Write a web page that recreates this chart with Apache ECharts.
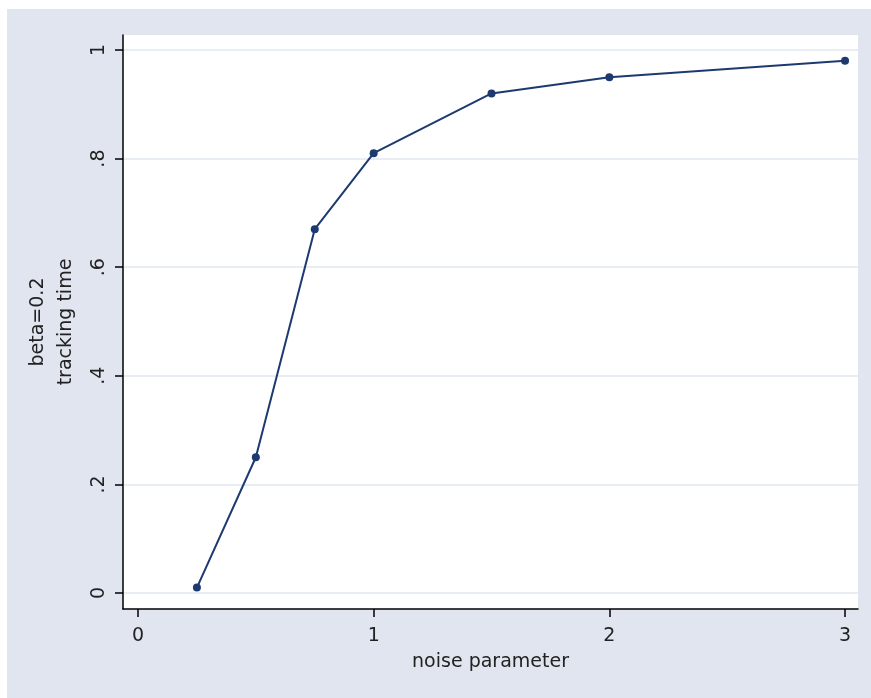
<!DOCTYPE html>
<html>
<head>
<meta charset="utf-8">
<script src="https://cdn.jsdelivr.net/npm/echarts@6/dist/echarts.min.js"></script>
<style>
html,body{margin:0;padding:0;background:#fff;}
#c{width:871px;height:698px;}
</style>
</head>
<body>
<div id="c"></div>
<script>
var noiseParam = [0.25, 0.5, 0.75, 1, 1.5, 2, 3];
var trackingTime = [0.01, 0.25, 0.67, 0.81, 0.92, 0.95, 0.98];
var xTicks = [0, 1, 2, 3];
var yTicks = [0, 0.2, 0.4, 0.6, 0.8, 1];
var yTickLabels = ['0', '.2', '.4', '.6', '.8', '1'];

var FONT = 'DejaVu Sans';
var chart = echarts.init(document.getElementById('c'), null, {renderer: 'canvas'});
var pts = noiseParam.map(function (x, i) { return [x, trackingTime[i]]; });

chart.setOption({
  backgroundColor: '#ffffff',
  animation: false,
  graphic: [{
    type: 'rect', z: -10, silent: true,
    shape: {x: 7, y: 9, width: 871, height: 698},
    style: {fill: '#e1e5f0'}
  }],
  grid: {
    left: 123, right: 13, top: 35, bottom: 89,
    show: true, backgroundColor: '#ffffff', borderWidth: 0
  },
  xAxis: {
    type: 'value',
    min: -0.0636, max: 3.055,
    name: 'noise parameter',
    nameLocation: 'middle',
    nameGap: 44,
    nameTextStyle: {fontFamily: FONT, fontSize: 19, color: '#222'},
    axisLine: {show: true, onZero: false, lineStyle: {color: '#000', width: 1.5}},
    axisTick: {show: true, length: 8, customValues: xTicks, lineStyle: {color: '#000', width: 1.5}},
    axisLabel: {customValues: xTicks, margin: 18, fontFamily: FONT, fontSize: 19, color: '#222',
      formatter: function (v) { return String(v); }},
    splitLine: {show: false}
  },
  yAxis: {
    type: 'value',
    min: -0.0295, max: 1.0276,
    name: 'beta=0.2\ntracking time',
    nameLocation: 'middle',
    nameGap: 43,
    nameRotate: 90,
    nameTextStyle: {fontFamily: FONT, fontSize: 19, color: '#222', lineHeight: 28},
    axisLine: {show: true, onZero: false, lineStyle: {color: '#000', width: 1.5}},
    axisTick: {show: true, length: 8, customValues: yTicks, lineStyle: {color: '#000', width: 1.5}},
    axisLabel: {customValues: yTicks, rotate: 90, margin: 14, fontFamily: FONT, fontSize: 19, color: '#222',
      formatter: function (v) {
        var i = yTicks.indexOf(v);
        if (i < 0) { for (var k = 0; k < yTicks.length; k++) if (Math.abs(yTicks[k] - v) < 1e-6) i = k; }
        return i >= 0 ? yTickLabels[i] : '';
      }},
    splitLine: {show: true, lineStyle: {color: '#e1e6ef', width: 1.5}}
  },
  series: [{
    type: 'line',
    data: pts,
    symbol: 'circle',
    symbolSize: 8,
    lineStyle: {color: '#1d3a70', width: 2},
    itemStyle: {color: '#1d3a70'}
  }]
});
</script>
</body>
</html>
